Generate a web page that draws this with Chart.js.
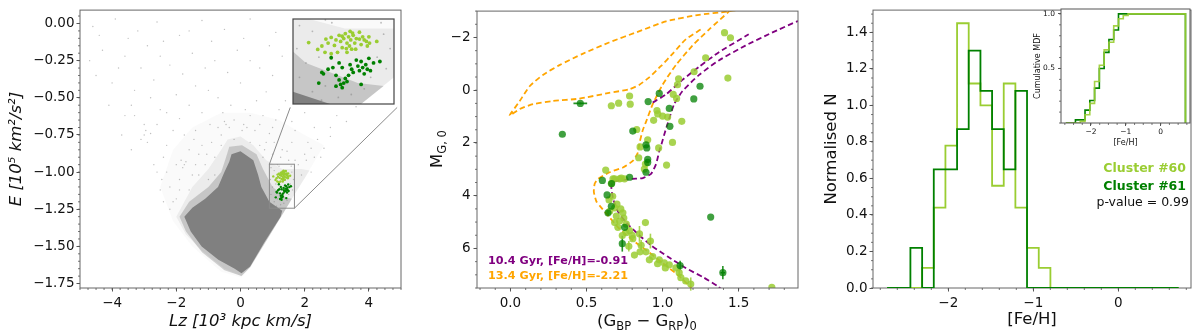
<!DOCTYPE html>
<html>
<head>
<meta charset="utf-8">
<script src="https://cdn.jsdelivr.net/npm/chart.js@4.4.1/dist/chart.umd.min.js"></script>
<style>
  html, body { margin: 0; padding: 0; background: #fff; }
  #wrap { position: relative; width: 1200px; height: 334px; overflow: hidden; }
  .pane { position: absolute; }
  canvas { display: block; }
</style>
</head>
<body>
<div id="wrap">
  <div class="pane" style="left:0;top:0;"><canvas id="c1" width="410" height="334"></canvas></div>
  <div class="pane" id="p1in"><canvas id="c1in"></canvas></div>
  <div class="pane" style="left:405px;top:0;"><canvas id="c2" width="400" height="334"></canvas></div>
  <div class="pane" style="left:805px;top:0;"><canvas id="c3" width="395" height="334"></canvas></div>
  <div class="pane" style="left:1020px;top:0;"><canvas id="c3in" width="180" height="150"></canvas></div>
</div>
<script>
// ---------- panel 1 : integrals of motion ----------
const lzTicks = [-4, -2, 0, 2, 4];
const eTicks = [0, -0.25, -0.5, -0.75, -1, -1.25, -1.5, -1.75];

// density outlines of the background cloud (Lz, E)
const cloudMid = [[-2.5,-1.1],[-2.1,-0.85],[-1.5,-0.7],[-0.6,-0.6],[0.3,-0.6],[1.2,-0.65],[2.0,-0.75],[2.6,-0.82],[2.0,-1.04],[1.68,-1.15],[1.42,-1.245],[0.3,-1.645],[0.03,-1.71],[-0.6,-1.67],[-1.5,-1.5],[-2.1,-1.33]];
const cloudInner = [[-2.0,-1.3],[-1.5,-1.1],[-1.0,-0.98],[-0.6,-0.85],[-0.4,-0.78],[0.0,-0.76],[0.4,-0.82],[0.8,-0.92],[1.3,-0.98],[1.9,-0.98],[2.15,-0.99],[1.68,-1.15],[1.42,-1.245],[0.3,-1.64],[0.03,-1.70],[-0.5,-1.65],[-1.2,-1.53],[-1.7,-1.42]];
const cloudHalo = [[-0.35,-0.83],[0.05,-0.82],[0.5,-0.88],[0.7,-0.98],[1.0,-1.1],[1.4,-1.17],[1.6,-1.18],[1.42,-1.245],[0.3,-1.64],[0.03,-1.70],[-0.5,-1.66],[-1.2,-1.54],[-1.7,-1.4],[-1.9,-1.3],[-1.6,-1.2],[-1.0,-1.1],[-0.6,-1.0],[-0.45,-0.9]];
const cloudCore = [[-0.28,-0.88],[0.0,-0.86],[0.4,-0.92],[0.55,-1.02],[0.65,-1.1],[0.9,-1.2],[1.3,-1.26],[1.25,-1.30],[0.75,-1.47],[0.3,-1.635],[0.03,-1.68],[-0.18,-1.65],[-0.69,-1.59],[-1.21,-1.5],[-1.55,-1.4],[-1.75,-1.3],[-1.5,-1.24],[-1.1,-1.18],[-0.7,-1.1],[-0.5,-1.0],[-0.35,-0.93]];
const cloudDots = [[-4.6,-0.02],[-3.9,0.03],[-3.2,-0.05],[-2.6,0.01],[-1.9,-0.08],[-1.2,0.02],[-0.5,-0.04],[0.3,0.03],[1.1,-0.06],
  [-4.3,-0.18],[-3.6,-0.22],[-2.9,-0.15],[-2.2,-0.28],[-1.5,-0.2],[-0.8,-0.25],[-0.1,-0.18],[0.6,-0.3],[1.3,-0.22],
  [-4.0,-0.4],[-3.3,-0.45],[-2.7,-0.38],[-2.0,-0.48],[-1.4,-0.42],[-0.7,-0.5],[0.0,-0.4],[0.8,-0.46],[1.4,-0.52],
  [-3.6,-0.62],[-3.0,-0.68],[-2.5,-0.58],[-1.9,-0.64],[-1.2,-0.6],[-0.5,-0.66],[0.3,-0.62],[1.0,-0.7],[1.7,-0.72],[2.3,-0.7],[3.0,-0.62],
  [-3.1,-0.78],[-2.8,-0.74],[-2.9,-0.8],[-2.3,-0.82],[-1.6,-0.85],[-0.9,-0.8],[-0.2,-0.78],[0.6,-0.82],[1.3,-0.85],[2.0,-0.88],[2.6,-0.84],
  [-2.6,-1.0],[-2.2,-1.1],[-1.85,-0.92],[-1.75,-0.95],[-1.8,-0.97],[-1.7,-0.93],[-1.5,-1.02],[-1.1,-0.95],[2.2,-1.0],[2.5,-0.9],
  [3.3,-0.66],[4.0,-0.45],[4.4,-0.35],[4.7,-0.22],[-4.7,-0.25],[-3.4,-0.85],[-2.4,-1.2],[1.9,-1.02],[2.3,-0.9],[2.8,-0.76],[3.8,-0.48],
  [-4.4,-0.08],[-3.5,-0.1],[-2.4,-0.12],[-1.6,-0.05],[-0.9,-0.12],[0.1,-0.1],[0.9,-0.15],
  [-3.8,-0.3],[-3.1,-0.3],[-2.5,-0.22],[-1.8,-0.34],[-1.1,-0.3],[-0.4,-0.33],[0.3,-0.25],[1.0,-0.35],
  [-3.4,-0.55],[-2.8,-0.5],[-2.3,-0.6],[-1.6,-0.55],[-1.0,-0.45],[-0.3,-0.55],[0.5,-0.52],[1.2,-0.58],[2.0,-0.6],
  [-2.6,-0.68],[-2.1,-0.72],[-1.4,-0.72],[-0.7,-0.7],[0.1,-0.68],[0.9,-0.74],[1.6,-0.8],[2.4,-0.78],
  [-2.0,-0.95],[-2.3,-1.0],[-1.3,-0.88],[-0.6,-0.82],[0.3,-0.8],[1.0,-0.88],[1.7,-0.92],[2.8,-0.7],
  [-2.1,-1.2],[-1.9,-1.12],[-2.5,-1.12],[-1.4,-0.95],[0.7,-0.9],[1.5,-0.92],[2.1,-0.8],[3.6,-0.56],[4.2,-0.4],
  [-4.5,-0.35],[-4.1,-0.55],[-3.7,-0.75],[-3.3,-0.62],[-2.95,-0.72],[-3.0,-0.75],
  [-1.9,-1.05],[-1.6,-1.12],[-1.3,-1.02],[-1.0,-1.05],[-0.8,-0.9],[-0.6,-0.75],[-0.45,-0.68],[-0.2,-0.65],[0.05,-0.72],[0.2,-0.7],
  [0.45,-0.72],[0.6,-0.68],[0.8,-0.8],[1.05,-0.8],[1.25,-0.9],[1.45,-0.86],[1.8,-0.95],[2.05,-0.92],[-2.2,-1.25],[-2.0,-1.18],
  [-1.2,-0.82],[-0.35,-0.7],[0.7,-0.62],[1.1,-0.65],[-1.45,-0.78],[-0.95,-0.68],[-2.4,-0.9],[-1.75,-0.75],[0.15,-0.58],[-0.55,-0.6],
  [1.6,-0.66],[2.2,-0.84],[-2.7,-0.95],[-2.45,-1.05],[-0.8,-1.02],[-1.05,-0.88],[0.75,-0.85],[1.15,-0.95],
  [0.95,-0.97],[1.05,-0.99],[0.93,-1.05],[1.0,-1.1],[1.1,-1.08],[0.95,-1.15],[1.05,-1.2],[1.15,-1.18],[1.25,-1.22],[0.98,-1.22],
  [1.6,-1.0],[1.65,-1.05],[1.55,-1.08],[1.62,-1.12],[1.5,-1.15],[1.45,-1.19],[1.35,-1.21],[1.2,-0.96],[1.58,-0.96],[1.12,-1.23]];

const c60IoM = [[1.021,-1.029],[1.091,-1.053],[1.123,-1.041],[1.154,-1.017],[1.171,-1.031],[1.195,-1.011],[1.22,-1.039],[1.232,-1.02],
  [1.256,-1.004],[1.268,-1.025],[1.28,-1.047],[1.292,-1.015],[1.304,-0.998],[1.317,-1.031],[1.329,-1.009],[1.341,-0.99],[1.346,-1.02],
  [1.353,-1.052],[1.365,-1.004],[1.377,-1.031],[1.389,-1.015],[1.413,-0.993],[1.426,-1.036],[1.438,-1.009],[1.45,-1.02],[1.474,-1.041],
  [1.486,-1.009],[1.491,-1.031],[1.547,-1.025],[1.195,-1.068],[1.147,-1.063],[1.244,-1.063],[1.317,-1.063],[1.28,-1.007],[1.336,-1.041],
  [1.384,-1.052],[1.467,-1.025],[1.36,-0.996],[1.312,-1.05],[1.413,-1.017]];
const c61IoM = [[1.195,-1.082],[1.256,-1.1],[1.28,-1.116],[1.123,-1.133],[1.135,-1.138],[1.171,-1.122],[1.099,-1.17],[1.232,-1.143],
  [1.256,-1.159],[1.268,-1.175],[1.28,-1.186],[1.292,-1.17],[1.304,-1.154],[1.329,-1.143],[1.341,-1.106],[1.353,-1.122],[1.389,-1.09],
  [1.401,-1.111],[1.413,-1.127],[1.426,-1.095],[1.438,-1.116],[1.45,-1.138],[1.462,-1.106],[1.474,-1.122],[1.486,-1.084],[1.498,-1.127],
  [1.522,-1.1],[1.571,-1.095],[1.426,-1.175],[1.317,-1.165],[1.232,-1.181],[1.208,-1.116],[1.365,-1.133]];

const zoomLz = [0.9, 1.68], zoomE = [-1.243, -0.947];   // region shown in the inset
const insetLz = [1.55, 4.88], insetE = [-0.565, 0.048]; // where the inset sits

// ---------- panel 2 : CMD ----------
const colTicks = [0, 0.5, 1, 1.5];
const magTicks = [-2, 0, 2, 4, 6];
const isoPurple = [[1.40,7.6],[1.359,7.42],[1.272,7.11],[1.152,6.74],[1.033,6.31],[0.924,5.88],[0.837,5.45],[0.761,5.02],[0.706,4.59],
  [0.674,4.10],[0.663,3.66],[0.674,3.48],[0.717,3.42],[0.804,3.36],[0.87,3.33],[0.924,3.17],[0.957,2.80],[0.978,2.31],[0.995,2.0],
  [1.015,1.6],[1.033,1.27],[1.076,0.53],[1.13,0.04],[1.24,-0.58],[1.37,-1.13],[1.544,-1.69],[1.718,-2.18],[1.885,-2.61],[1.95,-2.72]];
const isoPurpleAgb = [[0.935,0.47],[1.022,0.16],[1.13,-0.39],[1.24,-0.89],[1.37,-1.44],[1.566,-2.12]];
const isoOrange = [[1.2,7.6],[1.185,7.48],[1.109,7.05],[1.0,6.55],[0.891,6.06],[0.804,5.69],[0.717,5.26],[0.652,4.83],[0.598,4.46],
  [0.565,4.22],[0.548,3.85],[0.554,3.54],[0.576,3.36],[0.652,3.11],[0.739,2.93],[0.804,2.68],[0.837,2.37],[0.848,2.0],[0.87,1.51],
  [0.891,1.20],[0.935,0.53],[1.0,-0.21],[1.087,-0.95],[1.196,-1.69],[1.305,-2.30],[1.435,-2.98],[1.45,-3.1]];
const isoOrangeHb = [[1.25,-2.30],[1.152,-1.93],[1.07,-1.41],[0.99,-0.92],[0.91,-0.48],[0.848,-0.21],[0.778,-0.03],[0.648,0.10],
  [0.452,0.32],[0.278,0.41],[0.148,0.53],[0.061,0.71],[-0.005,0.96],[0.061,0.41],[0.126,-0.15],[0.213,-0.58],[0.322,-0.95],
  [0.474,-1.38],[0.648,-1.81],[0.848,-2.24],[1.022,-2.61],[1.24,-2.86],[1.424,-2.98],[1.5,-3.05]];

const cmd60 = [[1.407,-2.18],[1.446,-1.99],[1.283,-1.23],[1.429,-0.46],[1.207,-0.70],[1.105,-0.43],[1.098,-0.21],[1.07,0.16],[1.092,0.31],
  [0.783,0.22],[0.787,0.53],[0.711,0.49],[0.663,0.59],[0.963,0.77],[0.968,0.90],[1.0,0.98],[1.033,1.02],[0.941,1.14],[1.126,1.18],
  [0.83,1.49],[0.902,1.88],[0.852,2.15],[0.974,2.19],[1.065,1.98],[0.843,2.56],[0.887,2.80],[0.88,2.99],[1.026,2.84],
  [0.717,3.36],[0.75,3.36],[0.685,3.36],[0.626,3.03],[0.674,3.36],[0.728,3.33],[0.663,3.54],
  [0.648,4.16],[0.685,4.46],[0.652,4.59],[0.696,4.77],[0.717,4.96],[0.739,4.65],[0.685,5.02],[0.761,5.08],[0.706,5.20],[0.783,5.32],
  [0.887,5.02],[0.735,5.51],[0.778,5.92],[0.804,5.63],[0.848,5.45],[0.859,5.88],[0.891,6.13],[0.92,5.72],[0.935,6.31],[0.978,6.43],
  [1.011,6.55],[1.044,6.62],[1.087,6.74],[1.109,6.92],[1.152,7.23],[1.185,7.35],[1.12,7.11],[1.018,6.74],[0.967,6.58],[0.913,6.43],
  [0.852,6.13],[0.815,6.25],[1.718,7.48],[0.672,4.02],[0.70,4.32],[0.725,4.5],[0.745,4.85],[0.76,5.4],[0.80,5.5]];
const cmd61 = [[0.978,0.12],[0.905,0.43],[1.044,0.69],[1.205,0.33],[1.246,-0.15],[0.459,0.50],[0.341,1.67],[0.804,1.55],[1.048,1.37],
  [0.891,2.07],[0.896,2.19],[0.902,2.62],[0.902,2.74],[0.891,3.11],[0.783,3.30],[0.604,3.42],[0.665,3.54],[0.635,3.97],[0.663,4.40],
  [0.641,4.65],[0.75,5.20],[0.735,5.82],[1.115,6.65],[1.316,4.81],[1.396,6.92]];
// [colour, mag, colour error, mag error]
const cmd60Err = [[0.848,5.45,0,0.3],[0.92,5.72,0,0.28],[1.185,7.35,0,0.25],[0.778,5.92,0,0.2],[1.109,6.92,0,0.15],[0.859,5.88,0,0.2]];
const cmd61Err = [[0.459,0.50,0.045,0.04],[0.735,5.82,0,0.3],[1.396,6.92,0.015,0.25],[1.115,6.65,0,0.18],[0.641,4.65,0,0.12]];

// ---------- panel 3 : MDF ----------
const fehEdges = [-2.72,-2.583,-2.446,-2.308,-2.171,-2.034,-1.897,-1.76,-1.622,-1.485,-1.348,-1.211,-1.074,-0.936,-0.799,
  -0.662,-0.525,-0.388,-0.25,-0.113,0.024,0.161,0.298,0.436,0.573,0.71];
const mdf60 = [0,0,0,0.11,0.44,0.78,1.45,1.12,1.0,0.56,1.12,0.44,0.22,0.11,0,0,0,0,0,0,0,0,0,0,0];
const mdf61 = [0,0,0.22,0,0.65,0.65,0.87,1.30,1.08,0.87,0.65,1.08,0,0,0,0,0,0,0,0,0,0,0,0,0];
const cum60 = [0,0,0,0.015,0.076,0.18,0.38,0.53,0.67,0.74,0.89,0.955,0.985,1,1,1,1,1,1,1,1,1,1,1,1];
const cum61 = [0,0,0.029,0.029,0.118,0.206,0.32,0.5,0.647,0.765,0.853,1,1,1,1,1,1,1,1,1,1,1,1,1,1];
const fehTicks = [-2, -1, 0];
const nTicks = [0, 0.2, 0.4, 0.6, 0.8, 1.0, 1.2, 1.4];
const cumTicks = [0.5, 1.0];

// ---------- helpers ----------
Chart.defaults.font.family = "'DejaVu Sans', sans-serif";
Chart.defaults.color = '#111';
Chart.defaults.animation = false;

const MINUS = '\u2212';
const fmtNum = (v, d) => (v < -1e-9 ? MINUS : '') + Math.abs(v).toFixed(d);
const toXY = arr => arr.map(p => ({x: p[0], y: p[1]}));
const steps = (edges, vals) => vals.map((v, i) => ({x: edges[i], y: v})).concat([{x: edges[edges.length - 1], y: 0}]);

function linAxis(pos, min, max, ticks, fmt, size, title, o) {
  o = o || {};
  return {
    type: 'linear', position: pos, min: min, max: max, reverse: !!o.reverse,
    afterBuildTicks: s => { s.ticks = ticks.map(v => ({value: v})); },
    afterFit: s => { if (pos === 'bottom') s.height = size; else s.width = size; },
    ticks: { callback: v => fmt(v), font: {size: o.font || 13.5}, color: '#111', padding: o.pad != null ? o.pad : 3,
             maxRotation: 0, autoSkip: false },
    grid: { display: true, drawOnChartArea: false, drawTicks: true, tickLength: o.tl || 3.5, tickColor: '#555', lineWidth: 1 },
    border: { display: false },
    title: title || {display: false}
  };
}

const frame = {
  id: 'frame',
  beforeDatasetsDraw(chart, args, o) { if (o.under) box(chart, o); },
  afterDatasetsDraw(chart, args, o) { if (!o.under) box(chart, o); }
};
function box(chart, o) {
  const a = chart.chartArea, ctx = chart.ctx;
  ctx.save(); ctx.strokeStyle = o.color || '#666'; ctx.lineWidth = o.width || 1;
  ctx.strokeRect(a.left, a.top, a.right - a.left, a.bottom - a.top);
  ctx.restore();
}

const minorTicks = {
  id: 'minorTicks',
  afterDraw(chart, args, o) {
    const a = chart.chartArea, ctx = chart.ctx;
    ctx.save(); ctx.strokeStyle = '#555'; ctx.lineWidth = 0.8;
    ['x', 'y'].forEach(id => {
      const s = chart.scales[id], step = o[id];
      if (!step) return;
      const lo = Math.ceil(Math.min(s.min, s.max) / step - 1e-6), hi = Math.floor(Math.max(s.min, s.max) / step + 1e-6);
      for (let k = lo; k <= hi; k++) {
        const p = s.getPixelForValue(k * step);
        ctx.beginPath();
        if (id === 'x') { ctx.moveTo(p, a.bottom); ctx.lineTo(p, a.bottom + 2); }
        else { ctx.moveTo(a.left, p); ctx.lineTo(a.left - 2, p); }
        ctx.stroke();
      }
    });
    ctx.restore();
  }
};

const whiteBg = {
  id: 'whiteBg',
  beforeDraw(chart) {
    const a = chart.chartArea, ctx = chart.ctx;
    ctx.save(); ctx.fillStyle = '#fff'; ctx.fillRect(a.left, a.top, a.right - a.left, a.bottom - a.top); ctx.restore();
  }
};

function richText(ctx, segs, cx, cy, rot, color) {
  ctx.save();
  ctx.translate(cx, cy); ctx.rotate(rot);
  ctx.fillStyle = color; ctx.textBaseline = 'alphabetic'; ctx.textAlign = 'left';
  let w = 0;
  segs.forEach(s => { ctx.font = s[1] + 'px "DejaVu Sans"'; w += ctx.measureText(s[0]).width; });
  let xx = -w / 2;
  segs.forEach(s => {
    ctx.font = s[1] + 'px "DejaVu Sans"';
    ctx.fillText(s[0], xx, 6 + s[2]);
    xx += ctx.measureText(s[0]).width;
  });
  ctx.restore();
}

function poly(pts, color, order) {
  return { data: toXY(pts.concat([pts[0]])), showLine: true, fill: 'shape', backgroundColor: color,
           borderColor: 'rgba(0,0,0,0)', borderWidth: 0, pointRadius: 0, order: order };
}
function dots(pts, color, r, order) {
  return { data: toXY(pts), backgroundColor: color, borderColor: color, pointRadius: r, pointBorderWidth: 0,
           borderWidth: 0, order: order };
}
function iomDatasets(big) {
  return [
    dots(c61IoM, '#008000', big ? 1.9 : 1.2, 1),
    dots(c60IoM, '#9acd32', big ? 1.9 : 1.2, 2),
    dots(cloudDots, 'rgba(128,128,128,0.5)', big ? 0.9 : 0.7, 3),
    poly(cloudCore, 'rgb(128,128,128)', 4),
    poly(cloudHalo, 'rgba(128,128,128,0.35)', 5),
    poly(cloudInner, 'rgba(128,128,128,0.12)', 6),
    poly(cloudMid, 'rgba(128,128,128,0.045)', 7)
  ];
}

// ---------- panel 1 ----------
const zoomMark = {
  id: 'zoomMark',
  afterDatasetsDraw(chart) {
    const {x, y} = chart.scales, ctx = chart.ctx;
    const x0 = x.getPixelForValue(zoomLz[0]), x1 = x.getPixelForValue(zoomLz[1]);
    const yT = y.getPixelForValue(zoomE[1]), yB = y.getPixelForValue(zoomE[0]);
    const ix0 = x.getPixelForValue(insetLz[0]), ix1 = x.getPixelForValue(insetLz[1]);
    const iyB = y.getPixelForValue(insetE[0]);
    ctx.save(); ctx.strokeStyle = '#8a8a8a'; ctx.lineWidth = 1;
    ctx.strokeRect(x0, yT, x1 - x0, yB - yT);
    ctx.beginPath();
    ctx.moveTo(x0, yT); ctx.lineTo(ix0, iyB);
    ctx.moveTo(x1, yB); ctx.lineTo(ix1, iyB);
    ctx.stroke();
    ctx.restore();
  }
};

const chart1 = new Chart(document.getElementById('c1'), {
  type: 'scatter',
  data: { datasets: iomDatasets(false) },
  options: {
    responsive: false, animation: false, events: [],
    layout: { padding: {left: 0, top: 5, right: 9, bottom: 0} },
    plugins: { legend: {display: false}, tooltip: {enabled: false}, frame: {color: '#666'}, minorTicks: {x: 0.25, y: 0.05} },
    scales: {
      x: linAxis('bottom', -5, 5, lzTicks, v => fmtNum(v, 0), 46,
        {display: true, text: 'Lz [10\u00b3 kpc km/s]', font: {size: 16.5, style: 'italic'}, color: '#111', padding: {top: 0, bottom: 2}},
        {pad: 4}),
      y: linAxis('left', -1.78, 0.09, eTicks, v => fmtNum(v, 2), 80,
        {display: true, text: 'E [10\u2075 km\u00b2/s\u00b2]', font: {size: 16.5, style: 'italic'}, color: '#111', padding: {top: 7, bottom: 0}},
        {pad: 2})
    }
  },
  plugins: [frame, minorTicks, zoomMark]
});

// inset of panel 1, placed on the main axes
(function () {
  const xs = chart1.scales.x, ys = chart1.scales.y;
  const L = Math.round(xs.getPixelForValue(insetLz[0])), R = Math.round(xs.getPixelForValue(insetLz[1]));
  const T = Math.round(ys.getPixelForValue(insetE[1])), B = Math.round(ys.getPixelForValue(insetE[0]));
  const pane = document.getElementById('p1in'), cv = document.getElementById('c1in');
  pane.style.left = (L - 1) + 'px'; pane.style.top = (T - 1) + 'px';
  cv.width = R - L + 2; cv.height = B - T + 2;
  new Chart(cv, {
    type: 'scatter',
    data: { datasets: iomDatasets(true) },
    options: {
      responsive: false, animation: false, events: [],
      layout: { padding: 1 },
      plugins: { legend: {display: false}, tooltip: {enabled: false}, frame: {color: '#444', width: 1.2} },
      scales: {
        x: { type: 'linear', min: zoomLz[0], max: zoomLz[1], display: false },
        y: { type: 'linear', min: zoomE[0], max: zoomE[1], display: false }
      }
    },
    plugins: [whiteBg, frame]
  });
})();

// ---------- panel 2 ----------
function iso(pts, color, order) {
  return { data: toXY(pts), showLine: true, borderColor: color, borderWidth: 1.8, borderDash: [5.5, 3.2],
           pointRadius: 0, fill: false, tension: 0.2, order: order };
}
const errBars = {
  id: 'errBars',
  beforeDatasetsDraw(chart) {
    const {x, y} = chart.scales, ctx = chart.ctx;
    ctx.save(); ctx.lineWidth = 1.6;
    [[cmd60Err, 'rgba(154,205,50,0.85)'], [cmd61Err, 'rgba(0,128,0,0.85)']].forEach(set => {
      ctx.strokeStyle = set[1];
      set[0].forEach(p => {
        const px = x.getPixelForValue(p[0]), py = y.getPixelForValue(p[1]);
        ctx.beginPath();
        if (p[2]) { ctx.moveTo(x.getPixelForValue(p[0] - p[2]), py); ctx.lineTo(x.getPixelForValue(p[0] + p[2]), py); }
        if (p[3]) { ctx.moveTo(px, y.getPixelForValue(p[1] - p[3])); ctx.lineTo(px, y.getPixelForValue(p[1] + p[3])); }
        ctx.stroke();
      });
    });
    ctx.restore();
  }
};
const cmdText = {
  id: 'cmdText',
  afterDraw(chart) {
    const ctx = chart.ctx, a = chart.chartArea;
    ctx.save();
    ctx.font = 'bold 11.2px "DejaVu Sans"'; ctx.textBaseline = 'middle'; ctx.textAlign = 'left';
    ctx.fillStyle = '#800080'; ctx.fillText('10.4 Gyr, [Fe/H]=-0.91', a.left + 11, a.bottom - 26.5);
    ctx.fillStyle = '#ffa500'; ctx.fillText('13.4 Gyr, [Fe/H]=-2.21', a.left + 11, a.bottom - 11.5);
    ctx.restore();
    richText(ctx, [['(G', 16.5, 0], ['BP', 11.5, 4], [' \u2212 G', 16.5, 0], ['RP', 11.5, 4], [')', 16.5, 0], ['0', 11.5, 4]],
      a.left + 170, 320, 0, '#111');
    richText(ctx, [['M', 16.5, 0], ['G, 0', 11.5, 4]], 31, 149, -Math.PI / 2, '#111');
  }
};

new Chart(document.getElementById('c2'), {
  type: 'scatter',
  data: {
    datasets: [
      dots(cmd61, 'rgba(0,128,0,0.75)', 3.6, 1),
      dots(cmd60, 'rgba(154,205,50,0.85)', 3.6, 2),
      iso(isoPurple, '#800080', 3),
      iso(isoPurpleAgb, '#800080', 4),
      iso(isoOrange, '#ffa500', 5),
      iso(isoOrangeHb, '#ffa500', 6)
    ]
  },
  options: {
    responsive: false, animation: false, events: [],
    layout: { padding: {left: 0, top: 5, right: 7, bottom: 0} },
    plugins: { legend: {display: false}, tooltip: {enabled: false}, frame: {color: '#666'}, minorTicks: {x: 0.1, y: 0.5} },
    scales: {
      x: linAxis('bottom', -0.22, 1.89, colTicks, v => fmtNum(v, 1), 46, null, {pad: 4}),
      y: linAxis('left', -3, 7.5, magTicks, v => fmtNum(v, 0), 72, null, {pad: 3, reverse: true})
    }
  },
  plugins: [frame, minorTicks, errBars, cmdText]
});

// ---------- panel 3 ----------
function stepLine(pts, color, order, w) {
  return { data: pts, showLine: true, stepped: 'before', borderColor: color, borderWidth: w || 1.8,
           pointRadius: 0, fill: false, order: order };
}
const mdfText = {
  id: 'mdfText',
  afterDraw(chart) {
    const ctx = chart.ctx, a = chart.chartArea;
    ctx.save(); ctx.textAlign = 'right'; ctx.textBaseline = 'middle';
    ctx.font = 'bold 12.5px "DejaVu Sans"';
    ctx.fillStyle = '#9acd32'; ctx.fillText('Cluster #60', a.right - 5, 169);
    ctx.fillStyle = '#008000'; ctx.fillText('Cluster #61', a.right - 5, 186.5);
    ctx.font = '12.5px "DejaVu Sans"';
    ctx.fillStyle = '#111'; ctx.fillText('p-value = 0.99', a.right - 2, 202.5);
    ctx.restore();
  }
};

new Chart(document.getElementById('c3'), {
  type: 'scatter',
  data: { datasets: [ stepLine(steps(fehEdges, mdf61), '#008000', 1), stepLine(steps(fehEdges, mdf60), '#9acd32', 2) ] },
  options: {
    responsive: false, animation: false, events: [],
    layout: { padding: {left: 0, top: 5, right: 9, bottom: 0} },
    plugins: { legend: {display: false}, tooltip: {enabled: false}, frame: {color: '#666', under: true}, minorTicks: {x: 0.2, y: 0.05} },
    scales: {
      x: linAxis('bottom', -2.886, 0.855, fehTicks, v => fmtNum(v, 0), 46,
        {display: true, text: '[Fe/H]', font: {size: 16.5}, color: '#111', padding: {top: 0, bottom: 4}}, {pad: 4}),
      y: linAxis('left', 0, 1.522, nTicks, v => fmtNum(v, 1), 68,
        {display: true, text: 'Normalised N', font: {size: 16.5}, color: '#111', padding: {top: 17, bottom: 0}}, {pad: 2})
    }
  },
  plugins: [frame, minorTicks, mdfText]
});

// cumulative inset
new Chart(document.getElementById('c3in'), {
  type: 'scatter',
  data: { datasets: [ stepLine(steps(fehEdges, cum61), '#008000', 2, 1.6), stepLine(steps(fehEdges, cum60), 'rgba(154,205,50,0.9)', 1, 1.6) ] },
  options: {
    responsive: false, animation: false, events: [],
    layout: { padding: {left: 0, top: 9, right: 10, bottom: 0} },
    plugins: { legend: {display: false}, tooltip: {enabled: false}, frame: {color: '#555'}, minorTicks: {x: 0.25, y: 0.1} },
    scales: {
      x: linAxis('bottom', -2.86, 0.84, fehTicks, v => fmtNum(v, 0), 27,
        {display: true, text: '[Fe/H]', font: {size: 8}, color: '#111', padding: {top: 0, bottom: 2}}, {font: 7.5, pad: 2, tl: 3}),
      y: linAxis('left', 0, 1.045, cumTicks, v => fmtNum(v, 1), 41,
        {display: true, text: 'Cumulative MDF', font: {size: 8}, color: '#111', padding: {top: 13, bottom: 0}}, {font: 7.5, pad: 3, tl: 3})
    }
  },
  plugins: [whiteBg, frame, minorTicks]
});
</script>
</body>
</html>
